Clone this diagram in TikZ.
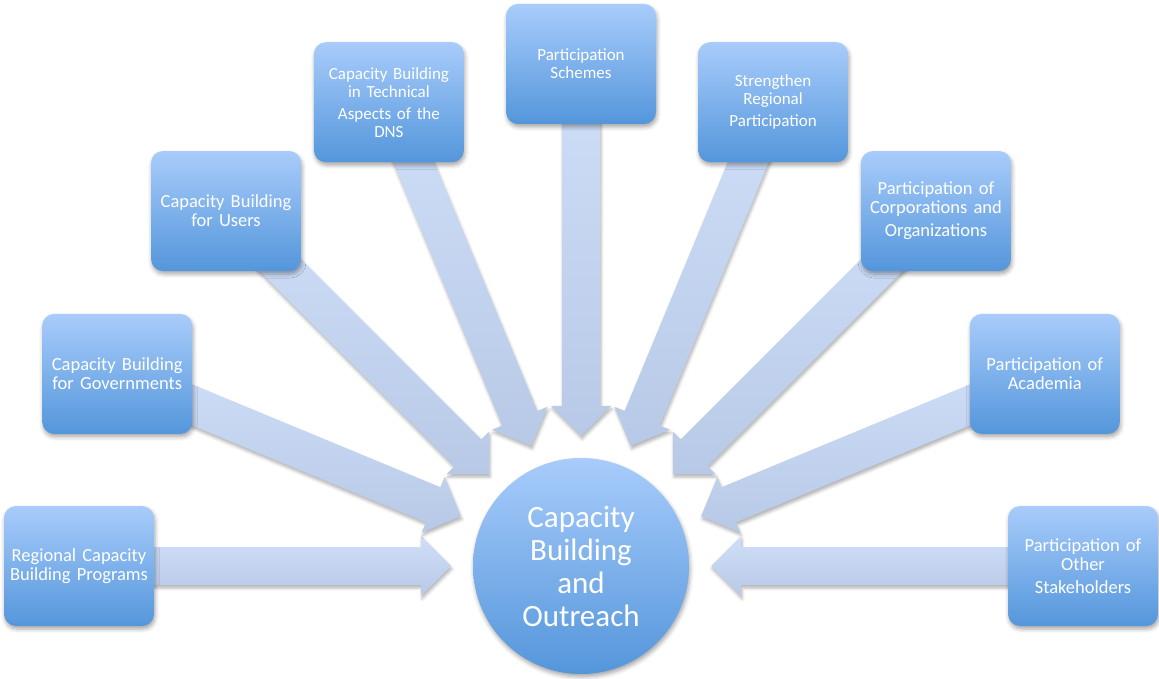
\documentclass[tikz,border=0pt]{standalone}
\usepackage{fontspec}
\setmainfont{Carlito}
\usetikzlibrary{calc,shadows.blur}
\definecolor{boxtop}{RGB}{168,204,251}
\definecolor{boxbot}{RGB}{84,150,219}
\definecolor{arrtop}{RGB}{207,223,248}
\definecolor{arrbot}{RGB}{184,201,231}
\pgfdeclarelayer{background}
\pgfsetlayers{background,main}
\begin{document}
\begin{tikzpicture}[x=1pt,y=1pt,
  cbox/.style={rounded corners=12pt, minimum width=150pt, minimum height=120pt,
    top color=boxtop, bottom color=boxbot, text=white, align=center,
    inner sep=2pt, text width=146pt, font=\fontsize{18.5}{19}\selectfont,
    blur shadow={shadow xshift=1pt, shadow yshift=-3pt, shadow blur radius=4pt, shadow opacity=35}},
  smallfont/.style={font=\fontsize{17}{18}\selectfont},
  hub/.style={circle, minimum size=216pt, inner sep=0pt, top color=boxtop, bottom color=boxbot,
    text=white, align=center, font=\fontsize{31}{33}\selectfont,
    blur shadow={shadow xshift=1pt, shadow yshift=-3pt, shadow blur radius=4pt, shadow opacity=35}},
  blockarrow/.style={top color=arrtop, bottom color=arrbot,
    blur shadow={shadow xshift=1pt, shadow yshift=-3pt, shadow blur radius=3pt, shadow opacity=30}}
]
\useasboundingbox (0,0) rectangle (1159,678);
\coordinate (c) at (581,112);

\node[hub] (hub) at (c) {Capacity\\Building\\and\\Outreach};

\node[cbox] (b1) at ($(c)+(180:502)$) {Regional Capacity\\Building Programs};
\node[cbox] (b2) at ($(c)+(157.5:502)$) {Capacity Building\\for Governments};
\node[cbox] (b3) at ($(c)+(135:502)$) {Capacity Building\\for Users};
\node[cbox,smallfont] (b4) at ($(c)+(112.5:502)$) {Capacity Building\\in Technical\\[4pt]Aspects of the\\DNS};
\node[cbox,smallfont] (b5) at ($(c)+(90:502)$) {Participation\\Schemes};
\node[cbox,smallfont] (b6) at ($(c)+(67.5:502)$) {Strengthen\\Regional\\[4pt]Participation};
\node[cbox] (b7) at ($(c)+(45:502)$) {Participation of\\Corporations and\\[4pt]Organizations};
\node[cbox] (b8) at ($(c)+(22.5:502)$) {Participation of\\Academia};
\node[cbox] (b9) at ($(c)+(0:502)$) {Participation of\\Other\\[4pt]Stakeholders};

\begin{pgfonlayer}{background}
\foreach \i in {1,...,9} {
  \coordinate (h\i) at ($(hub.center)!160pt!(b\i.center)$);
  \coordinate (t\i) at ($(hub.center)!130pt!(b\i.center)$);
  \path[blockarrow]
    ($(b\i.center)!19pt!90:(hub.center)$) --
    ($(h\i)!19pt!90:(hub.center)$) --
    ($(h\i)!30pt!90:(hub.center)$) --
    (t\i) --
    ($(h\i)!30pt!-90:(hub.center)$) --
    ($(h\i)!19pt!-90:(hub.center)$) --
    ($(b\i.center)!19pt!-90:(hub.center)$) -- cycle;
}
\end{pgfonlayer}
\end{tikzpicture}
\end{document}
